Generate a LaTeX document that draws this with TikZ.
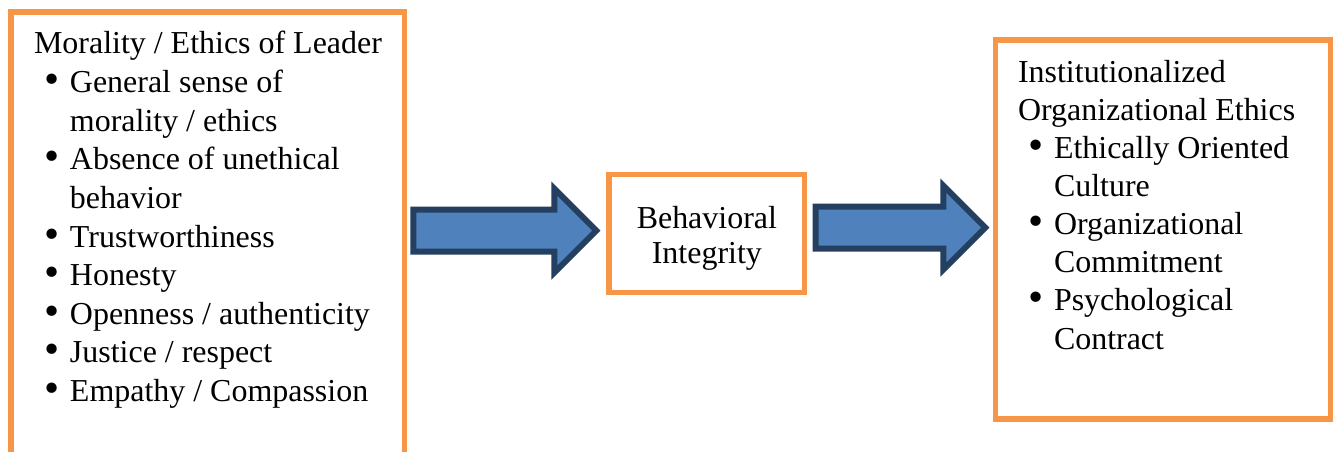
\documentclass[tikz,border=0pt]{standalone}
\usepackage{fontspec}
\setmainfont{Liberation Serif}
\usepackage{tikz}
\usetikzlibrary{calc,fit,positioning}
\definecolor{boxorange}{HTML}{F79646}
\definecolor{arrowblue}{HTML}{4F81BD}
\definecolor{arrowedge}{HTML}{243F60}
\tikzset{
  box/.style={draw=boxorange, line width=2pt, inner sep=0pt},
  listtext/.style={anchor=base west, inner sep=0pt, align=left, font=\fontsize{12pt}{14.5pt}\selectfont},
  flow/.style={draw=arrowedge, fill=arrowblue, line width=2.2pt, line join=miter}
}
% bullet and hanging indent for the lists
\newcommand{\bul}{\makebox[13.5pt][l]{\hspace{3.8pt}\smash{\raisebox{-0.4pt}{\scalebox{1.35}{\textbullet}}}}}
\newcommand{\ind}{\hspace*{13.5pt}}
% block arrow from #1 (tail) to #2 (tip)
\newcommand{\blockarrow}[2]{
  \draw[flow] ($(#1)+(0,-21)$) -- ($(#2)+(-42,-21)$) -- ($(#2)+(-42,-42)$) -- (#2)
    -- ($(#2)+(-42,42)$) -- ($(#2)+(-42,21)$) -- ($(#1)+(0,21)$) -- cycle;
}

\begin{document}
\begin{tikzpicture}[x=0.3755pt, y=-0.3755pt]
\path[use as bounding box, clip] (0,0) rectangle (1334,451);

% Frames
\node[box, fit={(11,12) (404.7,490)}] (leader) {};
\node[box, fit={(609,174.5) (804.7,292.7)}] (integrity) {};
\node[box, fit={(995.3,40) (1330.5,419)}] (org) {};

% Texts (base = last line)
\node[listtext] (leadertext) at (33.5,401.5) {Morality / Ethics of Leader\\
  \bul General sense of\\
  \ind morality / ethics\\
  \bul Absence of unethical\\
  \ind behavior\\
  \bul Trustworthiness\\
  \bul Honesty\\
  \bul Openness / authenticity\\
  \bul Justice / respect\\
  \bul Empathy / Compassion};
\node[inner sep=0pt, align=center, font=\fontsize{12pt}{13.1pt}\selectfont] (bitext)
  at ($(integrity.center)+(0,5)$) {Behavioral\\Integrity};
\node[listtext, font=\fontsize{12pt}{14.3pt}\selectfont] (orgtext) at (1017.5,349) {Institutionalized\\
  Organizational Ethics\\
  \bul Ethically Oriented\\
  \ind Culture\\
  \bul Organizational\\
  \ind Commitment\\
  \bul Psychological\\
  \ind Contract};

% Arrows
\coordinate (a1) at ($(leader.east |- integrity.center)+(6,-3)$);
\coordinate (b1) at ($(integrity.west)+(-10,-3)$);
\coordinate (a2) at ($(integrity.east)+(8.3,-6)$);
\coordinate (b2) at ($(org.west |- integrity.center)+(-7.3,-6)$);
\blockarrow{a1}{b1}
\blockarrow{a2}{b2}
\end{tikzpicture}
\end{document}
